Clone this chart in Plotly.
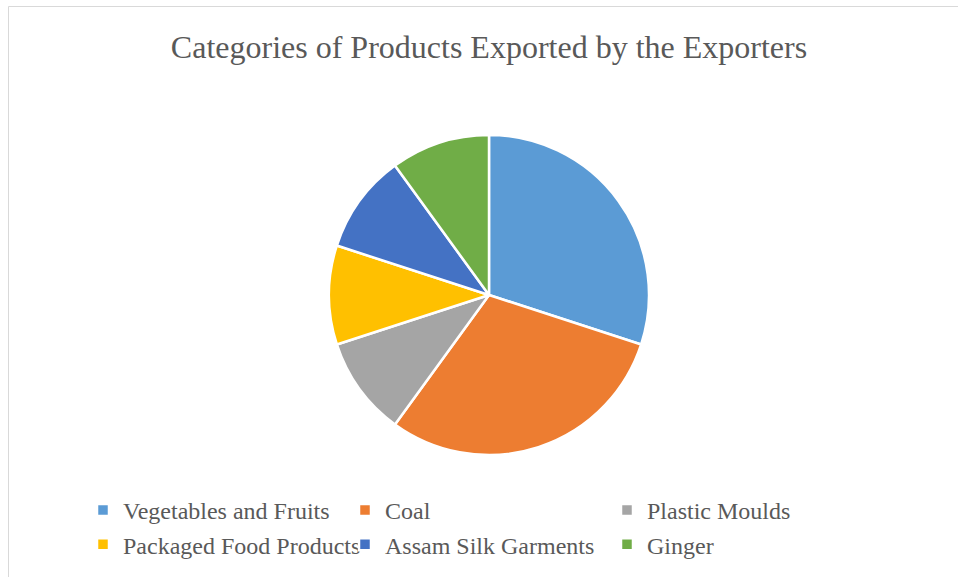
import plotly.graph_objects as go

labels = ["Vegetables and Fruits", "Coal", "Plastic Moulds",
          "Packaged Food Products", "Assam Silk Garments", "Ginger"]
values = [30, 30, 10, 10, 10, 10]
colors = ["#5B9BD5", "#ED7D31", "#A5A5A5", "#FFC000", "#4472C4", "#70AD47"]

W, H = 958, 577
cx, cy, r = 489, 295, 160

fig = go.Figure(go.Pie(
    labels=labels, values=values, sort=False, direction="clockwise", rotation=0,
    marker=dict(colors=colors, line=dict(color="white", width=2.5)),
    textinfo="none", hoverinfo="label+percent",
    domain=dict(x=[(cx - r) / W, (cx + r) / W], y=[1 - (cy + r) / H, 1 - (cy - r) / H]),
))

fig.update_layout(
    width=W, height=H,
    margin=dict(l=0, r=0, t=0, b=0),
    paper_bgcolor="white",
    font=dict(family="Liberation Serif, Times New Roman, serif", color="#595959"),
    title=dict(text="Categories of Products Exported by the Exporters",
               x=489 / W, xanchor="center", y=1 - 47 / H, yanchor="middle",
               font=dict(size=32, color="#595959")),
    showlegend=True,
    legend=dict(orientation="h", x=83 / W, xanchor="left", y=1 - 488 / H, yanchor="top",
                entrywidth=217, entrywidthmode="pixels",
                font=dict(size=24, color="#595959"), traceorder="normal"),
    shapes=[dict(type="rect", xref="paper", yref="paper",
                 x0=8.5 / W, x1=1.2, y0=-0.2, y1=1 - 6.5 / H,
                 line=dict(color="#D9D9D9", width=1))],
)

fig.write_html("out.html")
